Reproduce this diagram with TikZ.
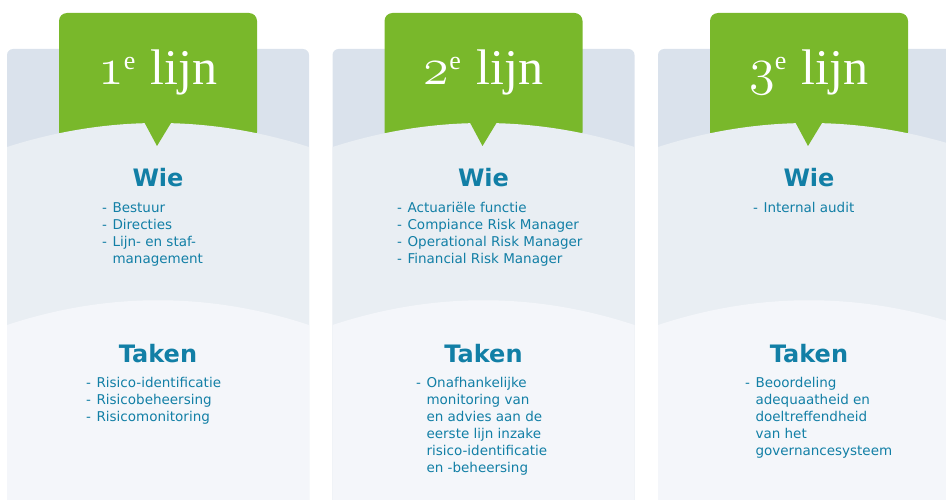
\documentclass[tikz,border=0pt]{standalone}
\usepackage{fontspec}
\setmainfont{DejaVu Sans}
\newfontfamily\lijnfont{Liberation Serif}

\definecolor{paneltop}{HTML}{DAE2EC}
\definecolor{panelmid}{HTML}{E9EEF3}
\definecolor{panelbot}{HTML}{F4F6FA}
\definecolor{lijngroen}{HTML}{79B82B}
\definecolor{tekstblauw}{HTML}{127FA6}

\tikzset{
  lijnkop/.style={anchor=base, text=white, inner sep=0pt,
    font=\lijnfont\fontsize{50}{50}\selectfont},
  kopje/.style={anchor=base, text=tekstblauw, inner sep=0pt,
    font=\bfseries\fontsize{24}{24}\selectfont},
  lijst/.style={anchor=base west, text=tekstblauw, inner sep=0pt,
    font=\fontsize{13.5}{17}\selectfont},
}

% dash list, first line on the baseline
\newcommand{\puntlijst}[1]{\begin{tabular}[t]{@{}l@{\hspace{5.5pt}}l@{}}#1\end{tabular}}
\newcommand{\lijnnr}[1]{\scalebox{2.1}{\fontsize{24.88}{25}\usefont{OML}{cmm}{m}{it}#1}\raisebox{15pt}{\fontsize{26}{26}\selectfont e}\hspace{3pt} lijn}

\begin{document}
\begin{tikzpicture}[x=1pt,y=-1pt]
\useasboundingbox (0,0) rectangle (946,500);
\clip (0,0) rectangle (946,500);

% three panels
\foreach \L [evaluate=\L as \c using \L+151] in {7,332.5,658} {
  \path[fill=paneltop,rounded corners=6] (\L,510) -- (\L,49) -- (\L+302,49) -- (\L+302,510) -- cycle;
  \path[fill=lijngroen,rounded corners=8] (\c-99,140) -- (\c-99,13) -- (\c+99,13) -- (\c+99,140) -- cycle;
  \path[fill=panelmid] (\L,147) .. controls (\L+100,115) and (\L+202,115) .. (\L+302,147)
    -- (\L+302,510) -- (\L,510) -- cycle;
  \path[fill=lijngroen] (\c-16,118) -- (\c+16,118) -- (\c-1,146) -- cycle;
  \path[fill=panelbot] (\L,325) .. controls (\L+100,292) and (\L+202,292) .. (\L+302,325)
    -- (\L+302,510) -- (\L,510) -- cycle;
}

% 1e lijn
\node[lijnkop] (kop1) at (158,85) {\lijnnr{1}};
\node[kopje] (wie1) at (158,187) {Wie};
\node[lijst] (wielijst1) at (102,213) {\puntlijst{-&Bestuur\\-&Directies\\-&Lijn- en staf-\\&management}};
\node[kopje] (taken1) at (158,362) {Taken};
\node[lijst] (takenlijst1) at (86,387) {\puntlijst{-&Risico-identificatie\\-&Risicobeheersing\\-&Risicomonitoring}};

% 2e lijn
\node[lijnkop] (kop2) at (483.5,85) {\lijnnr{2}};
\node[kopje] (wie2) at (483.5,187) {Wie};
\node[lijst] (wielijst2) at (397,213) {\puntlijst{-&Actuariële functie\\-&Compiance Risk Manager\\-&Operational Risk Manager\\-&Financial Risk Manager}};
\node[kopje] (taken2) at (483.5,362) {Taken};
\node[lijst] (takenlijst2) at (416,387) {\puntlijst{-&Onafhankelijke\\&monitoring van\\&en advies aan de\\&eerste lijn inzake\\&risico-identificatie\\&en -beheersing}};

% 3e lijn
\node[lijnkop] (kop3) at (809,85) {\lijnnr{3}};
\node[kopje] (wie3) at (809,187) {Wie};
\node[lijst] (wielijst3) at (753,213) {\puntlijst{-&Internal audit}};
\node[kopje] (taken3) at (809,362) {Taken};
\node[lijst] (takenlijst3) at (745,387) {\puntlijst{-&Beoordeling\\&adequaatheid en\\&doeltreffendheid\\&van het\\&governancesysteem}};
\end{tikzpicture}
\end{document}
